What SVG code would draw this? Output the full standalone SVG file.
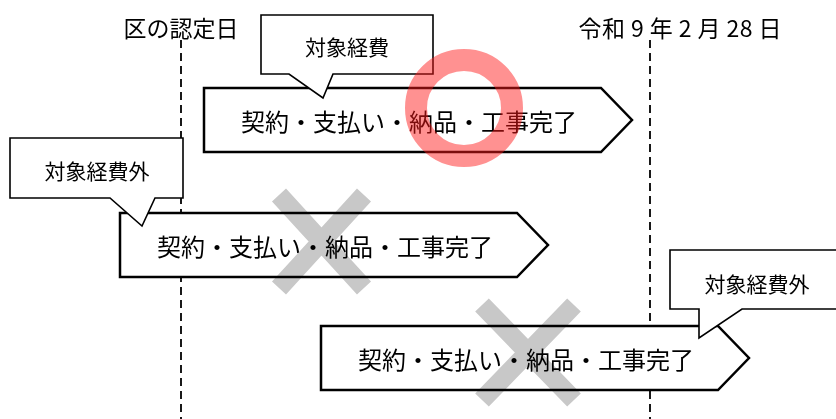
<svg xmlns="http://www.w3.org/2000/svg" width="836" height="419" viewBox="0 0 836 419">
<style>
text { font-family: "Noto Sans CJK JP", "Noto Sans", sans-serif; fill: #000; text-anchor: middle; dominant-baseline: central; }
.head { font-size: 23px; }
.arrowtxt { font-size: 24px; }
.calltxt { font-size: 21px; }
.arrow { fill: #fff; stroke: #000; stroke-width: 2.5; stroke-linejoin: miter; }
.callout { fill: #fff; stroke: #000; stroke-width: 1.6; stroke-linejoin: miter; }
.dash { stroke: #000; stroke-width: 1.8; stroke-dasharray: 8 5; fill: none; }
.cross { stroke: #c8c8c8; stroke-width: 19; mix-blend-mode: multiply; }
</style>
<rect width="836" height="419" fill="#fff"/>
<g id="guides">
  <line class="dash" x1="181" y1="40" x2="181" y2="419"/>
  <line class="dash" x1="650" y1="40" x2="650" y2="419"/>
  <text class="head" x="181" y="27">区の認定日</text>
  <text class="head" x="680" y="27" textLength="203" lengthAdjust="spacing">令和 9 年 2 月 28 日</text>
</g>
<g id="arrow1">
  <polygon class="arrow" points="204,88 601,88 632,120 601,152 204,152"/>
  <text class="arrowtxt" x="409" y="120">契約・支払い・納品・工事完了</text>
</g>
<g id="arrow2">
  <polygon class="arrow" points="120,213 517,213 548,245 517,277 120,277"/>
  <text class="arrowtxt" x="325" y="245">契約・支払い・納品・工事完了</text>
</g>
<g id="arrow3">
  <polygon class="arrow" points="321,326 718,326 749,358 718,390 321,390"/>
  <text class="arrowtxt" x="526" y="358">契約・支払い・納品・工事完了</text>
</g>
<g id="callout1">
  <path class="callout" d="M261,15 H433 V74 H333 L323,98 L289,74 H261 Z"/>
  <text class="calltxt" x="347" y="46">対象経費</text>
</g>
<g id="callout2">
  <path class="callout" d="M10,138 H183 V198 H155 L142,226 L110,198 H10 Z"/>
  <text class="calltxt" x="97" y="170">対象経費外</text>
</g>
<g id="callout3">
  <path class="callout" d="M670,250 H845 V309 H742 L699,338 V309 H670 Z"/>
  <text class="calltxt" x="757" y="283">対象経費外</text>
</g>
<g id="marks">
  <path class="cross" d="M279,195 L364,288 M364,195 L279,288"/>
  <path class="cross" d="M482,305 L574,400 M574,305 L482,400"/>
  <circle cx="464" cy="108" r="48" fill="none" stroke="#ff1a1a" stroke-opacity="0.48" stroke-width="22"/>
</g>
</svg>
